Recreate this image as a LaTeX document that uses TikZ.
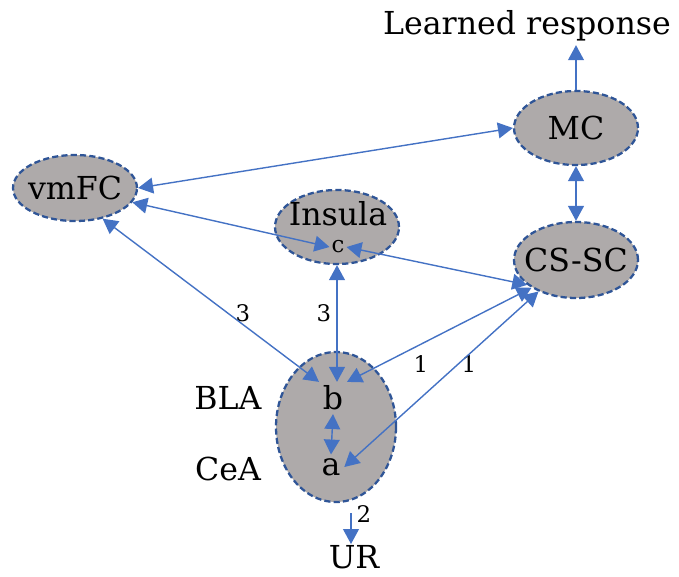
\documentclass[tikz,border=0pt]{standalone}
\usepackage{fontspec}
\setmainfont{DejaVu Serif}
\usetikzlibrary{shapes.geometric,arrows.meta}

\definecolor{regionfill}{HTML}{AEAAAA}
\definecolor{regionline}{HTML}{2F5597}
\definecolor{linkblue}{HTML}{4472C4}

\tikzset{
  region/.style={ellipse, draw=regionline, fill=regionfill, line width=1.3pt,
    dash pattern=on 3.5pt off 1.8pt, inner sep=0pt},
  txt/.style={font=\fontsize{18}{21}\selectfont, inner sep=2pt},
  small/.style={font=\fontsize{13}{15}\selectfont, inner sep=1pt},
  link/.style={draw=linkblue, line width=0.8pt,
    {Triangle[length=8.5pt,width=9pt,fill=linkblue]}-{Triangle[length=8.5pt,width=9pt,fill=linkblue]}},
  onelink/.style={draw=linkblue, line width=0.8pt,
    -{Triangle[length=8.5pt,width=9pt,fill=linkblue]}}
}

\begin{document}
\begin{tikzpicture}[x=0.02cm, y=-0.02cm]
  \useasboundingbox (0,0) rectangle (679,576);

  % regions
  \node[region, minimum width=2.48cm, minimum height=1.32cm] (vmfc) at (75,188) {};
  \node[region, minimum width=2.48cm, minimum height=1.48cm] (insula) at (337,227) {};
  \node[region, minimum width=2.48cm, minimum height=1.48cm] (mc) at (576,128) {};
  \node[region, minimum width=2.48cm, minimum height=1.52cm] (cssc) at (576,260) {};
  \node[region, minimum width=2.4cm, minimum height=3.0cm] (amy) at (336,427) {};

  % texts
  \node[txt] at (vmfc) {vmFC};
  \node[txt] at (mc) {MC};
  \node[txt] at (cssc) {CS-SC};
  \node[txt] (insulaname) at (338,214) {Insula};
  \node[small] (c) at (338,247) {c};
  \node[txt] (b) at (333,398) {b};
  \node[txt] (a) at (331,467) {a};
  \node[txt] (bla) at (228,398) {BLA};
  \node[txt] (cea) at (228,469) {CeA};
  \node[txt] (learned) at (527,26) {Learned response};
  \node[txt, inner sep=0.5pt] (ur) at (354,557) {UR};
  \coordinate (urfrom) at (351,513);

  % weights
  \node[small] (w1) at (243,313) {3};
  \node[small] (w2) at (324,313) {3};
  \node[small] (w3) at (421,364) {1};
  \node[small] (w4) at (469,364) {1};
  \node[small] (w5) at (364,514) {2};

  % connections
  \draw[onelink] (mc.north) -- (mc.north |- learned.south);
  \draw[link] (mc.south) -- (cssc.north);
  \draw[link] (vmfc.east) -- (mc.west);
  \draw[link] (vmfc.-14) -- (c.west);
  \draw[link] (c.east) -- (cssc.207);
  \draw[link] (vmfc.-48) -- (b.north west);
  \draw[link] (insula.south) -- (insula.south |- b.north);
  \draw[link] (cssc.212) -- (b.north east);
  \draw[link] (cssc.220) -- (a.east);
  \draw[link] (b.south) -- (a.north);
  \draw[onelink] (urfrom) -- (urfrom |- ur.north);

\end{tikzpicture}
\end{document}
